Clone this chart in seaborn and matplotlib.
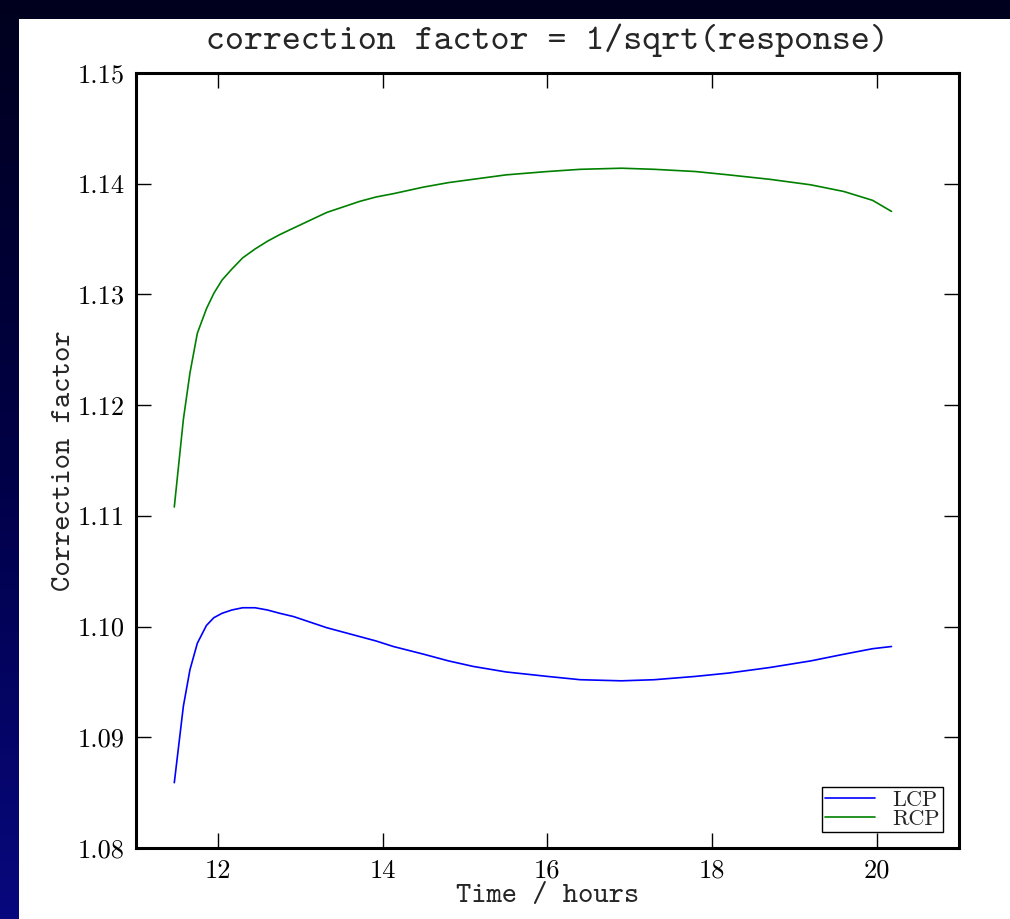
import numpy as np
import pandas as pd
import matplotlib
matplotlib.use("Agg")
import matplotlib.pyplot as plt
from matplotlib.patches import Rectangle
from matplotlib.colors import LinearSegmentedColormap
import seaborn as sns

# ---- data ----
time_hours = [11.47, 11.58, 11.66, 11.75, 11.86, 11.95, 12.05, 12.17, 12.30, 12.45, 12.60, 12.75,
              12.92, 13.12, 13.32, 13.52, 13.72, 13.92, 14.13, 14.50, 14.80, 15.10, 15.50, 16.00,
              16.40, 16.90, 17.30, 17.80, 18.20, 18.70, 19.20, 19.60, 19.95, 20.18]
lcp_factor = [1.0859, 1.0928, 1.0961, 1.0985, 1.1001, 1.1008, 1.1012, 1.1015, 1.1017, 1.1017,
              1.1015, 1.1012, 1.1009, 1.1004, 1.0999, 1.0995, 1.0991, 1.0987, 1.0982, 1.0975,
              1.0969, 1.0964, 1.0959, 1.0955, 1.0952, 1.0951, 1.0952, 1.0955, 1.0958, 1.0963,
              1.0969, 1.0975, 1.0980, 1.0982]
rcp_factor = [1.1108, 1.1187, 1.1229, 1.1265, 1.1287, 1.1301, 1.1313, 1.1323, 1.1333, 1.1341,
              1.1348, 1.1354, 1.1360, 1.1367, 1.1374, 1.1379, 1.1384, 1.1388, 1.1391, 1.1397,
              1.1401, 1.1404, 1.1408, 1.1411, 1.1413, 1.1414, 1.1413, 1.1411, 1.1408, 1.1404,
              1.1399, 1.1393, 1.1385, 1.1375]
series_names = ["LCP", "RCP"]
series_colors = ["#0000ff", "#008000"]
x_ticks = [12, 14, 16, 18, 20]
y_ticks = [1.08, 1.09, 1.10, 1.11, 1.12, 1.13, 1.14, 1.15]

df = pd.DataFrame({
    "time": time_hours * 2,
    "factor": lcp_factor + rcp_factor,
    "pol": [series_names[0]] * len(time_hours) + [series_names[1]] * len(time_hours),
})

sns.set_style("ticks")
plt.rcParams["font.family"] = ["cmr10", "DejaVu Serif"]
plt.rcParams["axes.formatter.use_mathtext"] = True

W, H = 1010, 919
fig = plt.figure(figsize=(W / 100, H / 100), dpi=100)

# slide background gradient
bg = fig.add_axes([0, 0, 1, 1], zorder=-10)
grad = np.linspace(0, 1, 256).reshape(-1, 1)
cmap = LinearSegmentedColormap.from_list("slide", ["#00001e", "#000046", "#08087e"])
bg.imshow(grad, aspect="auto", cmap=cmap, extent=[0, 1, 0, 1])
bg.set_axis_off()
fig.patches.append(Rectangle((19 / W, 0), 1, 1 - 19 / H, transform=fig.transFigure,
                             facecolor="white", edgecolor="none", zorder=-5))

ax = fig.add_axes([135.6 / W, 1 - 848 / H, (959 - 135.6) / W, (848 - 73) / H])
ax.set_facecolor("white")
sns.lineplot(data=df, x="time", y="factor", hue="pol", palette=series_colors,
             linewidth=1.2, ax=ax, legend=False, sort=False)

ax.set_xlim(11, 21)
ax.set_ylim(1.08, 1.15)
ax.set_xticks(x_ticks)
ax.set_yticks(y_ticks)
ax.set_yticklabels([f"{v:.2f}" for v in y_ticks])
ax.set_xticklabels([str(v) for v in x_ticks])
ax.tick_params(direction="in", top=True, right=True, length=11, width=1,
               labelsize=19, pad=8, colors="black")
for s in ax.spines.values():
    s.set_visible(True)
    s.set_linewidth(2.2)
    s.set_color("black")

ax.set_title("correction factor = 1/sqrt(response)", family="cmtt10", fontsize=26, pad=17)
ax.set_xlabel("Time / hours", family="cmtt10", fontsize=21, labelpad=1)
ax.set_ylabel("Correction factor", family="cmtt10", fontsize=21, labelpad=0)

handles = [plt.Line2D([], [], color=c, lw=1.2) for c in series_colors]
leg = ax.legend(handles, series_names, loc="lower right", fontsize=16, frameon=True,
                fancybox=False, shadow=False, borderaxespad=0.7, handlelength=2.25,
                labelspacing=0.0, borderpad=0.15, handletextpad=0.8)
leg.get_frame().set_edgecolor("black")
leg.get_frame().set_linewidth(1)
leg.get_frame().set_alpha(1)

fig.savefig("out.png", dpi=100)
